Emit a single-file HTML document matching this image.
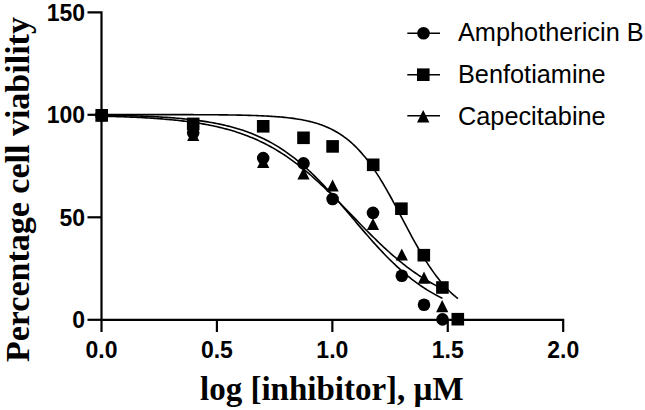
<!DOCTYPE html>
<html><head><meta charset="utf-8"><style>
html,body{margin:0;padding:0;background:#fff;}
svg{display:block;}
.tk{font-family:"Liberation Sans",sans-serif;font-weight:bold;font-size:23px;fill:#000;}
.lg{font-family:"Liberation Sans",sans-serif;font-size:25.3px;fill:#000;}
.ax{font-family:"Liberation Serif",serif;font-weight:bold;font-size:33px;fill:#000;}
</style></head><body>
<svg width="645" height="410" viewBox="0 0 645 410">
<rect width="645" height="410" fill="#fff"/>
<g fill="none" stroke="#000" stroke-width="1.6" stroke-linejoin="round"><path d="M101.50,115.10 L103.21,115.13 L104.93,115.16 L106.64,115.19 L108.35,115.22 L110.07,115.25 L111.78,115.28 L113.49,115.32 L115.21,115.35 L116.92,115.39 L118.63,115.43 L120.35,115.47 L122.06,115.51 L123.77,115.56 L125.49,115.60 L127.20,115.65 L128.91,115.70 L130.63,115.75 L132.34,115.80 L134.05,115.86 L135.77,115.91 L137.48,115.97 L139.19,116.04 L140.91,116.10 L142.62,116.17 L144.33,116.24 L146.05,116.31 L147.76,116.38 L149.48,116.46 L151.19,116.54 L152.90,116.63 L154.62,116.71 L156.33,116.80 L158.04,116.90 L159.76,116.99 L161.47,117.10 L163.18,117.20 L164.90,117.31 L166.61,117.42 L168.32,117.54 L170.04,117.66 L171.75,117.79 L173.46,117.92 L175.18,118.06 L176.89,118.20 L178.60,118.35 L180.32,118.50 L182.03,118.66 L183.74,118.83 L185.46,119.00 L187.17,119.18 L188.88,119.36 L190.60,119.55 L192.31,119.75 L194.02,119.96 L195.74,120.17 L197.45,120.39 L199.16,120.62 L200.88,120.86 L202.59,121.11 L204.30,121.36 L206.02,121.63 L207.73,121.90 L209.44,122.19 L211.16,122.49 L212.87,122.79 L214.58,123.11 L216.30,123.44 L218.01,123.78 L219.72,124.14 L221.44,124.50 L223.15,124.88 L224.86,125.28 L226.58,125.68 L228.29,126.10 L230.00,126.54 L231.72,126.99 L233.43,127.46 L235.14,127.94 L236.86,128.44 L238.57,128.96 L240.28,129.49 L242.00,130.04 L243.71,130.61 L245.43,131.20 L247.14,131.81 L248.85,132.44 L250.57,133.09 L252.28,133.76 L253.99,134.45 L255.71,135.17 L257.42,135.91 L259.13,136.67 L260.85,137.45 L262.56,138.26 L264.27,139.09 L265.99,139.94 L267.70,140.83 L269.41,141.73 L271.13,142.67 L272.84,143.63 L274.55,144.62 L276.27,145.64 L277.98,146.68 L279.69,147.75 L281.41,148.85 L283.12,149.98 L284.83,151.14 L286.55,152.33 L288.26,153.55 L289.97,154.80 L291.69,156.08 L293.40,157.38 L295.11,158.72 L296.83,160.09 L298.54,161.49 L300.25,162.92 L301.97,164.38 L303.68,165.86 L305.39,167.38 L307.11,168.93 L308.82,170.50 L310.53,172.11 L312.25,173.74 L313.96,175.40 L315.67,177.09 L317.39,178.80 L319.10,180.54 L320.81,182.30 L322.53,184.09 L324.24,185.90 L325.95,187.73 L327.67,189.58 L329.38,191.46 L331.09,193.35 L332.81,195.26 L334.52,197.18 L336.24,199.13 L337.95,201.08 L339.66,203.05 L341.38,205.03 L343.09,207.02 L344.80,209.02 L346.52,211.02 L348.23,213.03 L349.94,215.05 L351.66,217.07 L353.37,219.09 L355.08,221.10 L356.80,223.12 L358.51,225.13 L360.22,227.14 L361.94,229.14 L363.65,231.14 L365.36,233.12 L367.08,235.09 L368.79,237.05 L370.50,239.00 L372.22,240.93 L373.93,242.85 L375.64,244.75 L377.36,246.63 L379.07,248.49 L380.78,250.33 L382.50,252.15 L384.21,253.94 L385.92,255.72 L387.64,257.46 L389.35,259.19 L391.06,260.88 L392.78,262.55 L394.49,264.20 L396.20,265.81 L397.92,267.40 L399.63,268.95 L401.34,270.48 L403.06,271.98 L404.77,273.45 L406.48,274.89 L408.20,276.30 L409.91,277.68 L411.62,279.03 L413.34,280.35 L415.05,281.64 L416.76,282.90 L418.48,284.13 L420.19,285.33 L421.90,286.50 L423.62,287.64 L425.33,288.76 L427.04,289.84 L428.76,290.89 L430.47,291.92 L432.19,292.92 L433.90,293.89 L435.61,294.84 L437.33,295.75 L439.04,296.65 L440.75,297.51 L442.47,298.35"/><path d="M101.50,116.16 L103.21,116.20 L104.93,116.24 L106.64,116.29 L108.35,116.33 L110.07,116.38 L111.78,116.43 L113.49,116.48 L115.21,116.53 L116.92,116.58 L118.63,116.64 L120.35,116.70 L122.06,116.76 L123.77,116.82 L125.49,116.88 L127.20,116.95 L128.91,117.02 L130.63,117.09 L132.34,117.16 L134.05,117.24 L135.77,117.32 L137.48,117.40 L139.19,117.49 L140.91,117.57 L142.62,117.67 L144.33,117.76 L146.05,117.86 L147.76,117.96 L149.48,118.06 L151.19,118.17 L152.90,118.28 L154.62,118.40 L156.33,118.52 L158.04,118.64 L159.76,118.77 L161.47,118.90 L163.18,119.04 L164.90,119.18 L166.61,119.33 L168.32,119.48 L170.04,119.63 L171.75,119.80 L173.46,119.96 L175.18,120.14 L176.89,120.32 L178.60,120.50 L180.32,120.69 L182.03,120.89 L183.74,121.10 L185.46,121.31 L187.17,121.53 L188.88,121.75 L190.60,121.99 L192.31,122.23 L194.02,122.48 L195.74,122.74 L197.45,123.00 L199.16,123.28 L200.88,123.56 L202.59,123.86 L204.30,124.16 L206.02,124.47 L207.73,124.80 L209.44,125.13 L211.16,125.47 L212.87,125.83 L214.58,126.20 L216.30,126.58 L218.01,126.97 L219.72,127.37 L221.44,127.79 L223.15,128.22 L224.86,128.66 L226.58,129.11 L228.29,129.58 L230.00,130.07 L231.72,130.57 L233.43,131.08 L235.14,131.61 L236.86,132.16 L238.57,132.72 L240.28,133.30 L242.00,133.89 L243.71,134.51 L245.43,135.14 L247.14,135.79 L248.85,136.45 L250.57,137.14 L252.28,137.84 L253.99,138.57 L255.71,139.31 L257.42,140.08 L259.13,140.86 L260.85,141.67 L262.56,142.49 L264.27,143.34 L265.99,144.21 L267.70,145.10 L269.41,146.02 L271.13,146.96 L272.84,147.92 L274.55,148.90 L276.27,149.91 L277.98,150.94 L279.69,151.99 L281.41,153.07 L283.12,154.17 L284.83,155.29 L286.55,156.44 L288.26,157.61 L289.97,158.81 L291.69,160.03 L293.40,161.28 L295.11,162.55 L296.83,163.84 L298.54,165.16 L300.25,166.50 L301.97,167.86 L303.68,169.25 L305.39,170.66 L307.11,172.09 L308.82,173.54 L310.53,175.02 L312.25,176.51 L313.96,178.03 L315.67,179.56 L317.39,181.12 L319.10,182.70 L320.81,184.29 L322.53,185.90 L324.24,187.53 L325.95,189.17 L327.67,190.83 L329.38,192.50 L331.09,194.19 L332.81,195.89 L334.52,197.60 L336.24,199.32 L337.95,201.05 L339.66,202.79 L341.38,204.54 L343.09,206.29 L344.80,208.05 L346.52,209.81 L348.23,211.58 L349.94,213.35 L351.66,215.12 L353.37,216.89 L355.08,218.67 L356.80,220.43 L358.51,222.20 L360.22,223.96 L361.94,225.71 L363.65,227.46 L365.36,229.21 L367.08,230.94 L368.79,232.66 L370.50,234.38 L372.22,236.08 L373.93,237.77 L375.64,239.44 L377.36,241.10 L379.07,242.75 L380.78,244.38 L382.50,246.00 L384.21,247.59 L385.92,249.17 L387.64,250.73 L389.35,252.27 L391.06,253.79 L392.78,255.29 L394.49,256.77 L396.20,258.23 L397.92,259.67 L399.63,261.08 L401.34,262.47 L403.06,263.84 L404.77,265.19 L406.48,266.51 L408.20,267.81 L409.91,269.08 L411.62,270.33 L413.34,271.56 L415.05,272.76 L416.76,273.94 L418.48,275.10 L420.19,276.23 L421.90,277.33 L423.62,278.41 L425.33,279.47 L427.04,280.51 L428.76,281.52 L430.47,282.51 L432.19,283.47 L433.90,284.42 L435.61,285.34 L437.33,286.23 L439.04,287.11 L440.75,287.96 L442.47,288.79"/><path d="M101.50,114.58 L103.29,114.58 L105.08,114.58 L106.87,114.58 L108.66,114.58 L110.46,114.58 L112.25,114.58 L114.04,114.58 L115.83,114.58 L117.62,114.58 L119.41,114.58 L121.20,114.58 L122.99,114.58 L124.78,114.58 L126.58,114.58 L128.37,114.58 L130.16,114.58 L131.95,114.58 L133.74,114.59 L135.53,114.59 L137.32,114.59 L139.11,114.59 L140.90,114.59 L142.70,114.59 L144.49,114.59 L146.28,114.59 L148.07,114.59 L149.86,114.59 L151.65,114.60 L153.44,114.60 L155.23,114.60 L157.02,114.60 L158.82,114.60 L160.61,114.60 L162.40,114.61 L164.19,114.61 L165.98,114.61 L167.77,114.61 L169.56,114.62 L171.35,114.62 L173.14,114.62 L174.94,114.63 L176.73,114.63 L178.52,114.63 L180.31,114.64 L182.10,114.64 L183.89,114.65 L185.68,114.65 L187.47,114.66 L189.26,114.66 L191.06,114.67 L192.85,114.67 L194.64,114.68 L196.43,114.69 L198.22,114.70 L200.01,114.70 L201.80,114.71 L203.59,114.72 L205.38,114.73 L207.18,114.74 L208.97,114.75 L210.76,114.77 L212.55,114.78 L214.34,114.79 L216.13,114.81 L217.92,114.82 L219.71,114.84 L221.50,114.86 L223.30,114.88 L225.09,114.90 L226.88,114.92 L228.67,114.94 L230.46,114.97 L232.25,115.00 L234.04,115.02 L235.83,115.05 L237.62,115.09 L239.42,115.12 L241.21,115.16 L243.00,115.20 L244.79,115.24 L246.58,115.28 L248.37,115.33 L250.16,115.38 L251.95,115.44 L253.74,115.50 L255.54,115.56 L257.33,115.62 L259.12,115.69 L260.91,115.77 L262.70,115.85 L264.49,115.93 L266.28,116.03 L268.07,116.12 L269.87,116.23 L271.66,116.34 L273.45,116.45 L275.24,116.58 L277.03,116.71 L278.82,116.86 L280.61,117.01 L282.40,117.17 L284.19,117.34 L285.99,117.53 L287.78,117.73 L289.57,117.93 L291.36,118.16 L293.15,118.40 L294.94,118.65 L296.73,118.92 L298.52,119.20 L300.31,119.51 L302.11,119.83 L303.90,120.18 L305.69,120.55 L307.48,120.94 L309.27,121.35 L311.06,121.79 L312.85,122.26 L314.64,122.76 L316.43,123.29 L318.23,123.85 L320.02,124.45 L321.81,125.08 L323.60,125.75 L325.39,126.47 L327.18,127.22 L328.97,128.02 L330.76,128.86 L332.55,129.76 L334.35,130.70 L336.14,131.70 L337.93,132.76 L339.72,133.87 L341.51,135.04 L343.30,136.28 L345.09,137.58 L346.88,138.95 L348.67,140.40 L350.47,141.91 L352.26,143.50 L354.05,145.16 L355.84,146.91 L357.63,148.73 L359.42,150.64 L361.21,152.63 L363.00,154.70 L364.79,156.86 L366.59,159.10 L368.38,161.43 L370.17,163.85 L371.96,166.34 L373.75,168.93 L375.54,171.59 L377.33,174.33 L379.12,177.15 L380.91,180.05 L382.71,183.02 L384.50,186.05 L386.29,189.15 L388.08,192.30 L389.87,195.51 L391.66,198.76 L393.45,202.06 L395.24,205.39 L397.03,208.75 L398.83,212.12 L400.62,215.52 L402.41,218.92 L404.20,222.31 L405.99,225.71 L407.78,229.08 L409.57,232.44 L411.36,235.76 L413.15,239.05 L414.95,242.30 L416.74,245.50 L418.53,248.65 L420.32,251.74 L422.11,254.77 L423.90,257.73 L425.69,260.61 L427.48,263.42 L429.27,266.16 L431.07,268.81 L432.86,271.38 L434.65,273.87 L436.44,276.28 L438.23,278.60 L440.02,280.83 L441.81,282.98 L443.60,285.04 L445.39,287.02 L447.19,288.92 L448.98,290.73 L450.77,292.46 L452.56,294.12 L454.35,295.70 L456.14,297.21 L457.93,298.64"/></g>
<g fill="none" stroke="#000" stroke-width="2.2" stroke-linecap="butt" stroke-linejoin="miter"><path d="M87.5,12.30 H101.5 V319.8" /><path d="M101.5,319.8 H563.20 V332" /><path d="M87.5,114.80 H101.5"/><path d="M87.5,217.30 H101.5"/><path d="M87.5,319.80 H101.5"/><path d="M101.50,319.8 V332"/><path d="M216.93,319.8 V332"/><path d="M332.35,319.8 V332"/><path d="M447.77,319.8 V332"/></g>
<g fill="#000"><circle cx="101.50" cy="115.30" r="6.3"/><circle cx="193.20" cy="132.80" r="6.3"/><circle cx="263.20" cy="158.10" r="6.3"/><circle cx="303.50" cy="163.40" r="6.3"/><circle cx="332.60" cy="199.00" r="6.3"/><circle cx="373.00" cy="212.90" r="6.3"/><circle cx="401.80" cy="275.70" r="6.3"/><circle cx="424.00" cy="304.70" r="6.3"/><circle cx="442.50" cy="319.40" r="6.3"/><path d="M101.50,109.20 L107.60,121.40 L95.40,121.40 Z"/><path d="M193.20,128.90 L199.30,141.10 L187.10,141.10 Z"/><path d="M263.20,155.80 L269.30,168.00 L257.10,168.00 Z"/><path d="M303.50,167.40 L309.60,179.60 L297.40,179.60 Z"/><path d="M332.60,179.40 L338.70,191.60 L326.50,191.60 Z"/><path d="M373.00,217.90 L379.10,230.10 L366.90,230.10 Z"/><path d="M401.80,248.40 L407.90,260.60 L395.70,260.60 Z"/><path d="M424.00,271.60 L430.10,283.80 L417.90,283.80 Z"/><path d="M442.20,300.10 L448.30,312.30 L436.10,312.30 Z"/><rect x="95.40" y="109.00" width="12.6" height="12.6"/><rect x="186.90" y="117.60" width="12.6" height="12.6"/><rect x="256.90" y="120.00" width="12.6" height="12.6"/><rect x="297.20" y="131.50" width="12.6" height="12.6"/><rect x="326.30" y="140.10" width="12.6" height="12.6"/><rect x="366.90" y="158.50" width="12.6" height="12.6"/><rect x="395.10" y="202.40" width="12.6" height="12.6"/><rect x="417.50" y="248.90" width="12.6" height="12.6"/><rect x="436.10" y="281.20" width="12.6" height="12.6"/><rect x="451.50" y="312.90" width="12.6" height="12.6"/></g>
<g class="tk"><text x="85" y="20.70" text-anchor="end">150</text><text x="85" y="123.20" text-anchor="end">100</text><text x="85" y="225.70" text-anchor="end">50</text><text x="85" y="328.20" text-anchor="end">0</text><text x="101.50" y="358.3" text-anchor="middle">0.0</text><text x="216.93" y="358.3" text-anchor="middle">0.5</text><text x="332.35" y="358.3" text-anchor="middle">1.0</text><text x="447.77" y="358.3" text-anchor="middle">1.5</text><text x="563.20" y="358.3" text-anchor="middle">2.0</text></g>
<g class="lg"><path d="M407.3,33.2 H440" stroke="#000" stroke-width="1.5"/><circle cx="423.50" cy="33.20" r="6.3"/><text x="458" y="40.80">Amphothericin B</text><path d="M407.3,74.7 H440" stroke="#000" stroke-width="1.5"/><rect x="417.00" y="68.40" width="12.6" height="12.6"/><text x="458" y="82.80">Benfotiamine</text><path d="M407.3,115.8 H440" stroke="#000" stroke-width="1.5"/><path d="M423.20,110.00 L429.40,122.50 L417.00,122.50 Z"/><text x="458" y="124.70">Capecitabine</text></g>
<text class="ax" x="200" y="399.5">log [inhibitor], µM</text>
<text class="ax" style="font-size:34px" transform="translate(29,362) rotate(-90)">Percentage cell viability</text>
</svg>
</body></html>
